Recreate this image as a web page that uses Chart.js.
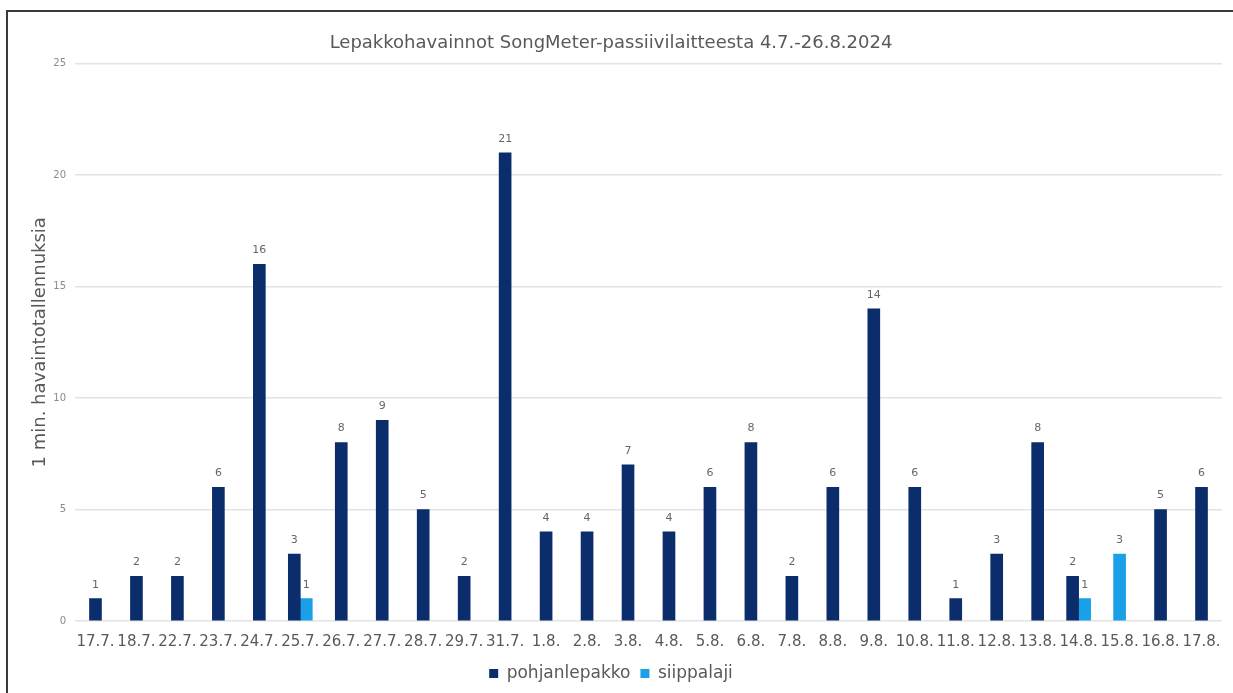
<!DOCTYPE html>
<html>
<head>
<meta charset="utf-8">
<title>Lepakkohavainnot</title>
<script src="https://cdn.jsdelivr.net/npm/chart.js@4.4.1/dist/chart.umd.min.js"></script>
<style>
  html, body { margin: 0; padding: 0; background: #fff; }
  #wrap { position: relative; width: 1233px; height: 693px; overflow: hidden; }
  #frame {
    position: absolute; left: 6px; top: 10px; right: -4px; bottom: -4px;
    border-left: 2px solid #3a3a3a; border-top: 2px solid #3a3a3a;
  }
  #chart { position: absolute; left: 0; top: 0; }
</style>
</head>
<body>
<div id="wrap">
  <div id="frame"></div>
  <canvas id="chart" width="1233" height="693"></canvas>
</div>
<script>
const days = ['17.7.', '18.7.', '22.7.', '23.7.', '24.7.', '25.7.', '26.7.', '27.7.', '28.7.', '29.7.',
  '31.7.', '1.8.', '2.8.', '3.8.', '4.8.', '5.8.', '6.8.', '7.8.', '8.8.', '9.8.',
  '10.8.', '11.8.', '12.8.', '13.8.', '14.8.', '15.8.', '16.8.', '17.8.'];
const pohjanlepakko = [1, 2, 2, 6, 16, 3, 8, 9, 5, 2,
  21, 4, 4, 7, 4, 6, 8, 2, 6, 14,
  6, 1, 3, 8, 2, null, 5, 6];
const siippalaji = [null, null, null, null, null, 1, null, null, null, null,
  null, null, null, null, null, null, null, null, null, null,
  null, null, null, null, 1, 3, null, null];
const yTicks = [0, 5, 10, 15, 20, 25];

const FONT = "'DejaVu Sans', Verdana, sans-serif";
const GRAY = '#595959';

// value labels above each bar
const barValues = {
  id: 'barValues',
  afterDatasetsDraw(chart) {
    const ctx = chart.ctx;
    ctx.save();
    ctx.font = '11px ' + FONT;
    ctx.fillStyle = '#666';
    ctx.textAlign = 'center';
    ctx.textBaseline = 'middle';
    chart.data.datasets.forEach((ds, i) => {
      const meta = chart.getDatasetMeta(i);
      meta.data.forEach((bar, j) => {
        const v = ds.data[j];
        if (v == null) return;
        ctx.fillText(String(v), bar.x, bar.y - 14);
      });
    });
    ctx.restore();
  }
};

new Chart(document.getElementById('chart'), {
  type: 'bar',
  data: {
    labels: days,
    datasets: [
      { label: 'pohjanlepakko', data: pohjanlepakko, backgroundColor: '#0c2d6b' },
      { label: 'siippalaji', data: siippalaji, backgroundColor: '#1aa0e6' }
    ]
  },
  options: {
    responsive: false,
    animation: false,
    skipNull: true,
    barThickness: 12,
    layout: { padding: { left: 0, right: 11, top: 0, bottom: 1 } },
    plugins: {
      title: {
        display: true,
        text: 'Lepakkohavainnot SongMeter-passiivilaitteesta 4.7.-26.8.2024',
        color: GRAY,
        font: { family: FONT, size: 18, weight: 'normal' },
        padding: { top: 33, bottom: 9 }
      },
      legend: {
        position: 'bottom',
        labels: {
          color: GRAY,
          font: { family: FONT, size: 17 },
          boxWidth: 9,
          boxHeight: 9,
          padding: 10
        }
      },
      tooltip: { enabled: false }
    },
    scales: {
      x: {
        grid: { display: false },
        border: { display: false },
        ticks: {
          color: GRAY,
          font: { family: FONT, size: 15 },
          autoSkip: false,
          maxRotation: 0,
          minRotation: 0,
          padding: 4
        }
      },
      y: {
        min: 0,
        max: 25,
        afterBuildTicks(scale) {
          scale.ticks = yTicks.map(v => ({ value: v }));
        },
        afterFit(scale) { scale.width = 75; },
        grid: { color: '#e3e3e3', lineWidth: 1.5, drawTicks: false },
        border: { display: false },
        ticks: {
          color: '#8a8a8a',
          font: { family: FONT, size: 10 },
          padding: 9
        },
        title: {
          display: true,
          text: '1 min. havaintotallennuksia',
          color: GRAY,
          font: { family: FONT, size: 18 },
          padding: { top: 30, bottom: 0 }
        }
      }
    }
  },
  plugins: [barValues]
});
</script>
</body>
</html>
